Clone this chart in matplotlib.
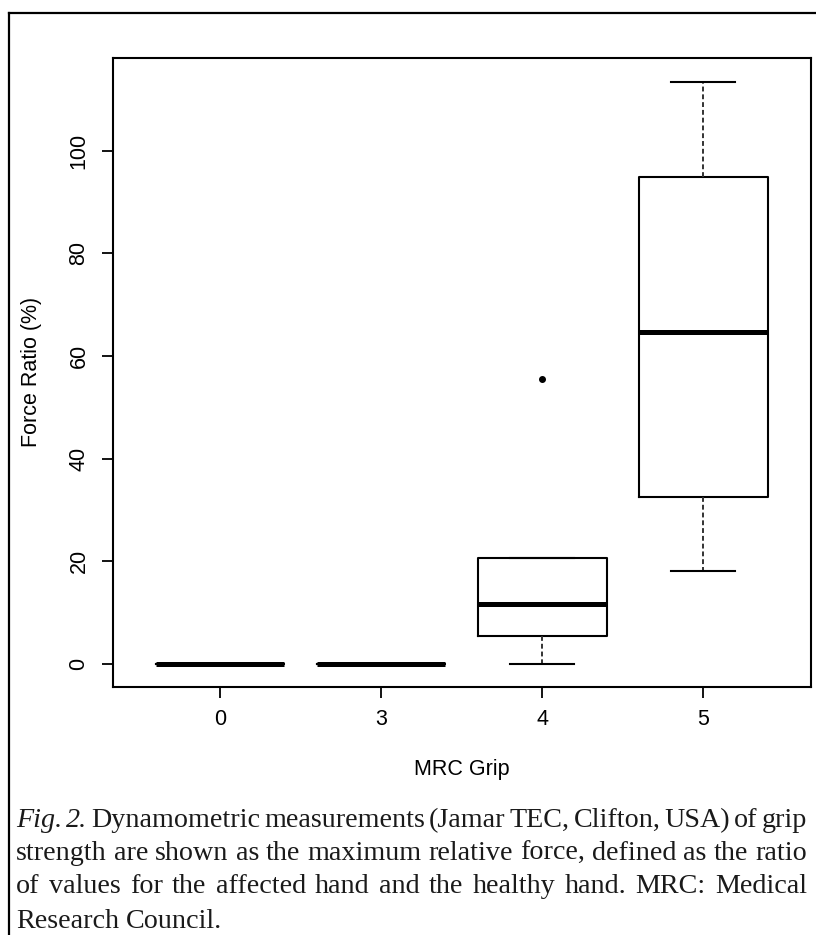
import matplotlib
matplotlib.use("Agg")
import matplotlib.pyplot as plt
from matplotlib.lines import Line2D

# grip strength groups (MRC grade) and box summary values, force ratio in %
groups = ["0", "3", "4", "5"]
whisk_lo = [0, 0, 0, 18.2]
q1 = [0, 0, 5.5, 32.6]
median = [0, 0, 11.7, 64.6]
q3 = [0, 0, 20.7, 94.9]
whisk_hi = [0, 0, 20.7, 113.5]
outliers = [[], [], [55.6], []]

y_ticks = [0, 20, 40, 60, 80, 100]

caption = [
    [("Fig.", "italic"), ("2.", "italic"), ("Dynamometric", "normal"), ("measurements", "normal"),
     ("(Jamar", "normal"), ("TEC,", "normal"), ("Clifton,", "normal"), ("USA)", "normal"),
     ("of", "normal"), ("grip", "normal")],
    "strength are shown as the maximum relative force, defined as the ratio",
    "of values for the affected hand and the healthy hand. MRC: Medical",
    "Research Council.",
]

W, H = 816, 935
fig = plt.figure(figsize=(W / 100, H / 100), dpi=100)

# outer frame round the whole figure
fig.add_artist(Line2D([9 / W, 9 / W], [0, 1 - 13 / H], color="black", lw=1.6,
                      transform=fig.transFigure))
fig.add_artist(Line2D([9 / W, 1], [1 - 13 / H, 1 - 13 / H], color="black", lw=1.6,
                      transform=fig.transFigure))

ax = fig.add_axes([113 / W, (H - 687) / H, (811 - 113) / W, (687 - 58) / H])

stats = []
for i, g in enumerate(groups):
    stats.append(dict(label=g, med=median[i], q1=q1[i], q3=q3[i],
                      whislo=whisk_lo[i], whishi=whisk_hi[i], fliers=outliers[i]))

pos = list(range(1, len(groups) + 1))
ax.bxp(stats, positions=pos, widths=0.8, capwidths=0.4, showfliers=True,
       boxprops=dict(color="black", lw=1.5),
       medianprops=dict(color="black", lw=3.6, solid_capstyle="butt"),
       whiskerprops=dict(color="#333333", lw=1.4, linestyle=(0, (2.5, 1.5))),
       capprops=dict(color="black", lw=1.5),
       flierprops=dict(marker="o", markerfacecolor="black", markeredgecolor="black",
                       markersize=4))

ax.set_xlim(0.335, 4.67)
ax.set_ylim(-4.5, 118.1)
ax.set_xticks(pos)
ax.set_xticklabels(groups)
ax.set_yticks(y_ticks)
ax.set_yticklabels([str(v) for v in y_ticks], rotation=90, va="center")

for s in ax.spines.values():
    s.set_linewidth(1.5)
ax.tick_params(axis="both", length=8, width=1.3, labelsize=15.5, direction="out")
ax.tick_params(axis="x", pad=8)
ax.tick_params(axis="y", pad=9)
for t in ax.get_xticklabels() + ax.get_yticklabels():
    t.set_fontfamily("Liberation Sans")

fig.text(32 / W, 1 - 372 / H, "Force Ratio (%)", rotation=90, ha="center", va="center",
         fontsize=15.5, family="Liberation Sans")
fig.text(462 / W, 1 - 770 / H, "MRC Grip", ha="center", va="center",
         fontsize=15.5, family="Liberation Sans")

# justified caption, placed word by word
left, right = 16, 807
baselines = [827, 860, 893, 928]
renderer = fig.canvas.get_renderer()


def word_widths(words, size):
    out = []
    for w, st in words:
        t = fig.text(0, 0, w, fontsize=size, family="Liberation Serif", style=st,
                     va="baseline", ha="left", color="#1a1a1a")
        out.append((t, t.get_window_extent(renderer).width))
    return out


lines = []
for line in caption:
    if isinstance(line, str):
        lines.append([(w, "normal") for w in line.split()])
    else:
        lines.append(line)

# size the caption so the second line fills the column with plain spaces
probe = word_widths(lines[1], 16)
sp = 0.25 * 16 * 100 / 72
natural = sum(wd for _, wd in probe) + sp * (len(probe) - 1)
for t, _ in probe:
    t.remove()
cap_size = 16 * (right - left) / natural

for li, words in enumerate(lines):
    items = word_widths(words, cap_size)
    total = sum(wd for _, wd in items)
    if li < len(lines) - 1 and len(items) > 1:
        gap = (right - left - total) / (len(items) - 1)
    else:
        gap = 0.25 * cap_size * 100 / 72
    x = left
    for t, wd in items:
        t.set_position((x / W, 1 - baselines[li] / H))
        x += wd + gap

fig.savefig("out.png", dpi=100)
